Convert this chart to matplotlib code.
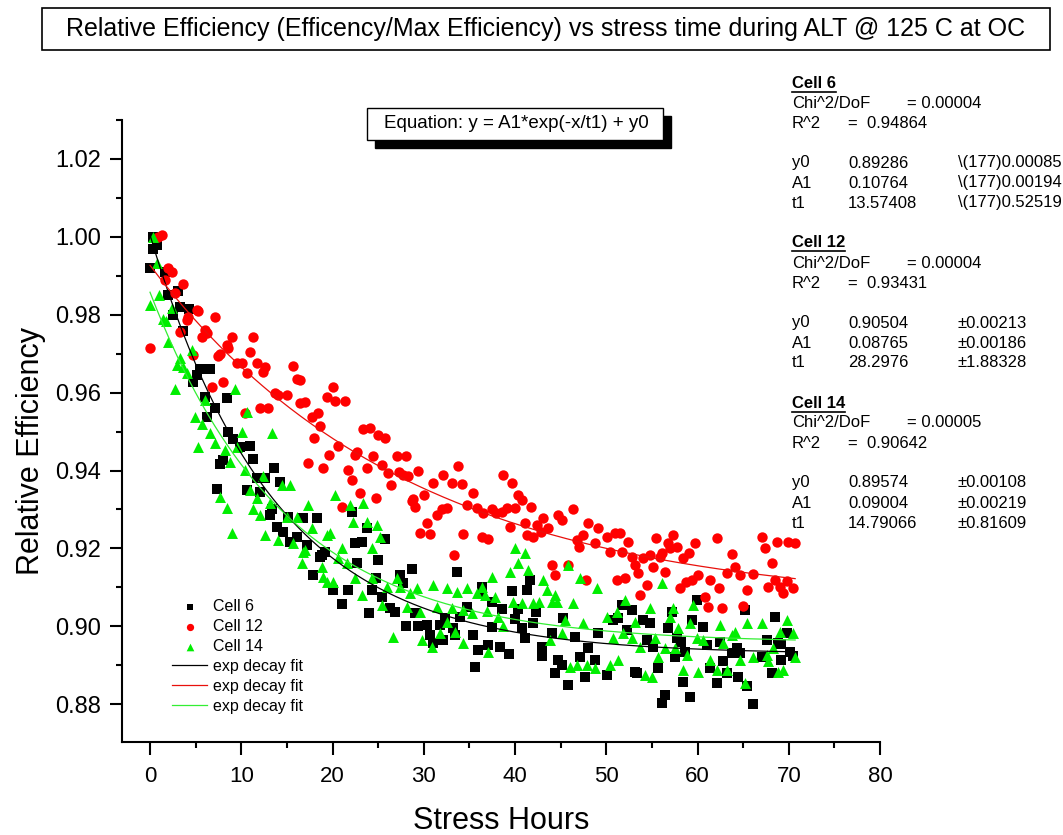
import numpy as np
import matplotlib
matplotlib.use("Agg")
import matplotlib.pyplot as plt
from matplotlib.patches import Rectangle
from matplotlib.lines import Line2D
from matplotlib.ticker import MultipleLocator

plt.rcParams['font.family'] = ['Liberation Sans', 'DejaVu Sans']

# Cell 6 (black squares)
cell6_x = [0.3, 0.8, 0.3, 0.0, 1.6, 2.0, 3.1, 3.3, 4.3, 2.5, 3.6, 5.5, 6.6, 5.1, 4.7, 6.0, 8.4, 7.1, 6.2,
           8.5, 9.1, 9.9, 11.0, 11.3, 8.0, 7.7, 13.6, 7.3, 10.6, 11.7, 12.6, 12.1, 14.2, 13.4, 13.2, 13.9,
           14.6, 15.1, 16.8, 18.3, 15.3, 17.2, 16.1, 18.8, 19.2, 17.9,
           18.6, 20.1, 21.0, 21.7, 22.1, 22.5, 23.2, 23.8, 25.8, 25.0, 22.7, 24.0, 24.3, 24.8, 25.4, 26.3,
           26.8, 27.4, 28.7, 27.7, 29.0, 28.1, 29.4, 30.4, 30.7, 31.0, 31.8, 32.1, 32.3, 33.2, 33.4, 33.6,
           34.0, 34.7, 35.4, 35.9, 35.6, 36.4, 36.4, 37.0, 37.5, 37.5,
           41.6, 39.7, 41.3, 38.6, 40.3, 42.3, 40.0, 40.8, 42.0, 41.1, 38.4, 39.3, 43.0, 44.1, 43.0, 45.3,
           46.6, 48.0, 47.1, 48.8, 44.7, 45.2, 44.4, 45.8, 47.7, 50.1, 49.1, 50.7, 51.3, 51.7, 52.8, 52.3,
           54.0, 54.8, 53.2, 53.4, 54.5, 55.1, 55.7, 56.4, 56.1, 57.2, 56.8, 57.5,
           59.9, 59.4, 60.6, 57.8, 58.2, 58.6, 61.0, 62.5, 62.8, 61.4, 63.2, 63.8, 64.7, 64.3, 65.2, 64.4,
           65.4, 66.1, 62.1, 59.2, 58.4, 67.1, 67.6, 68.5, 69.8, 68.8, 69.2, 69.2, 68.2, 70.1, 70.5]
cell6_y = [1.000, 0.998, 0.997, 0.992, 0.991, 0.985, 0.986, 0.982, 0.9815, 0.980, 0.9757, 0.966, 0.966,
           0.9645, 0.9627, 0.959, 0.9587, 0.956, 0.9538,
           0.950, 0.948, 0.946, 0.9463, 0.943, 0.9427, 0.9417, 0.9407, 0.9353, 0.935, 0.938, 0.938, 0.9346,
           0.937, 0.930, 0.9286, 0.9256, 0.9243, 0.928, 0.9279, 0.9279, 0.9217, 0.921, 0.923, 0.9184,
           0.919, 0.9132,
           0.9178, 0.9094, 0.9057, 0.9094, 0.9294, 0.9214, 0.9217, 0.9253, 0.9225, 0.917, 0.9163, 0.9035,
           0.9094, 0.9125, 0.9076, 0.9048, 0.9037, 0.9132, 0.9147, 0.911, 0.9035, 0.900, 0.900, 0.9003,
           0.8978, 0.8957, 0.9003, 0.8965, 0.9022, 0.8996, 0.8978, 0.914, 0.9024, 0.905, 0.8978, 0.894,
           0.8896, 0.9101, 0.9086, 0.8952, 0.8999, 0.9062,
           0.912, 0.9091, 0.9094, 0.9045, 0.9045, 0.9037, 0.9019, 0.8996, 0.9009, 0.897, 0.8947, 0.893,
           0.8947, 0.8983, 0.8924, 0.9022, 0.8973, 0.8944, 0.8922, 0.8914, 0.8914, 0.890, 0.888, 0.885,
           0.887, 0.8875, 0.8983, 0.9016, 0.9022, 0.9055, 0.9042, 0.8991, 0.9016, 0.9009, 0.8883, 0.888,
           0.8965, 0.8947, 0.8893, 0.8824, 0.8804, 0.9037, 0.8996, 0.8922,
           0.9068, 0.9016, 0.8998, 0.897, 0.896, 0.8934, 0.8952, 0.896, 0.891, 0.8894, 0.888, 0.8932,
           0.8932, 0.8945, 0.9042, 0.887, 0.8846, 0.880, 0.8855, 0.8819, 0.8857, 0.8922, 0.8965, 0.9024,
           0.8983, 0.8957, 0.8955, 0.8914, 0.888, 0.8934, 0.8924]

# Cell 12 (red circles)
cell12_x = [1.3, 0.9, 0.0, 2.0, 2.4, 1.6, 3.6, 2.7, 5.2, 5.3, 7.1, 4.2, 4.1, 6.0, 6.2, 5.7, 3.3, 9.0, 11.3,
            8.4, 8.5, 11.0, 7.7, 7.5, 4.7, 9.5, 10.1, 11.7, 12.6, 12.4, 10.6, 15.7, 16.1, 6.8, 8.0, 13.7,
            14.0, 15.0, 12.1, 12.9, 16.4, 17.0, 18.4, 17.8, 19.4, 10.4,
            20.1, 20.3, 21.4, 16.4, 18.6, 18.0, 17.3, 19.0, 19.6, 20.6, 23.3, 24.1, 25.0, 25.8, 21.7, 22.1,
            22.5, 22.7, 23.8, 24.4, 25.4, 26.1, 26.4, 27.1, 28.1, 27.3, 27.7, 28.3, 29.4, 23.0, 24.8, 28.8,
            30.0, 31.0, 32.1, 33.1, 33.8, 34.2, 35.4,
            21.0, 28.7, 29.0, 34.7, 35.8, 36.5, 37.5, 37.9, 31.5, 32.0, 32.5, 30.4, 29.6, 30.7, 34.3, 36.4,
            37.0, 33.3,
            38.7, 39.7, 40.3, 40.8, 38.6, 39.1, 40.0, 41.8, 39.5, 41.1, 42.4, 43.1, 43.6, 42.8, 41.3, 42.0,
            44.7, 45.2, 46.4, 48.0, 49.1, 46.8, 47.5, 47.0, 48.8, 50.1, 51.0, 51.5, 52.4, 50.4, 51.7, 52.8,
            53.2, 53.5, 54.0, 54.8, 55.1, 55.9, 56.1, 55.5, 56.4, 56.8, 57.3, 57.8, 44.1, 44.4, 45.8, 47.8,
            51.2, 52.1, 54.5, 53.7,
            57.0, 59.7, 62.1, 59.1, 58.4, 60.1, 59.4, 58.7, 58.1, 63.8, 64.1, 64.7, 63.2, 66.1, 61.4, 62.4,
            65.4, 60.8, 61.2, 62.7, 65.0, 67.1, 67.4, 68.7, 69.9, 70.7, 68.2, 68.5, 67.7, 69.0, 69.4, 69.8,
            70.5]
cell12_y = [1.0005, 1.000, 0.9715, 0.992, 0.991, 0.989, 0.988, 0.9856, 0.9813, 0.981, 0.9795, 0.9795,
            0.9787, 0.976, 0.9754, 0.9743, 0.9756, 0.9743, 0.9743, 0.9723, 0.9715, 0.9705, 0.970, 0.9695,
            0.9697, 0.9677, 0.9677, 0.9677, 0.9666, 0.9653, 0.965, 0.9669, 0.9635, 0.9615, 0.9628, 0.960,
            0.9594, 0.9594, 0.956, 0.956, 0.9574, 0.9576, 0.9548, 0.9538, 0.9589, 0.9548,
            0.9615, 0.9579, 0.9579, 0.9633, 0.9515, 0.9484, 0.942, 0.9407, 0.944, 0.9463, 0.9507, 0.951,
            0.9492, 0.9484, 0.9402, 0.9376, 0.944, 0.9448, 0.9407, 0.9438, 0.9415, 0.9394, 0.9363, 0.9438,
            0.9438, 0.9397, 0.9389, 0.9387, 0.940, 0.9343, 0.933, 0.9327, 0.9338, 0.9369, 0.9389, 0.9369,
            0.9412, 0.9366, 0.9343,
            0.9307, 0.9322, 0.9307, 0.9312, 0.9304, 0.9291, 0.930, 0.9291, 0.9286, 0.930, 0.9304, 0.9266,
            0.924, 0.9237, 0.9237, 0.923, 0.9225, 0.9184,
            0.9389, 0.9369, 0.9338, 0.9325, 0.9294, 0.9304, 0.9304, 0.9307, 0.9256, 0.9266, 0.926, 0.9278,
            0.9253, 0.9242, 0.9235, 0.923, 0.9286, 0.9273, 0.930, 0.9266, 0.9253, 0.9222, 0.9235, 0.9204,
            0.9214, 0.923, 0.924, 0.924, 0.9217, 0.9191, 0.9191, 0.9178, 0.9158, 0.9137, 0.9175, 0.9184,
            0.9153, 0.9178, 0.9189, 0.9227, 0.914, 0.9214, 0.9235, 0.9204, 0.9158, 0.9132, 0.9158, 0.912,
            0.912, 0.9125, 0.9107, 0.908,
            0.9202, 0.9214, 0.9227, 0.9189, 0.9175, 0.9132, 0.912, 0.9114, 0.9099, 0.9186, 0.9153, 0.9132,
            0.9137, 0.9135, 0.912, 0.9099, 0.9094, 0.9076, 0.905, 0.9047, 0.9052, 0.923, 0.920, 0.9217,
            0.9217, 0.9214, 0.9163, 0.912, 0.9102, 0.9102, 0.9086, 0.9117, 0.9099]

# Cell 14 (green triangles)
cell14_x = [0.3, 0.8, 1.0, 0.0, 2.4, 1.4, 1.8, 2.0, 4.6, 3.3, 3.0, 3.6, 4.1, 2.7, 6.0, 9.3, 10.6,
            4.9, 5.7, 6.6, 7.1, 5.3, 10.1, 13.4, 8.2, 8.8, 9.5, 10.4, 12.4, 14.5, 15.3, 11.0, 7.7, 11.7,
            8.4, 11.3, 12.1, 13.2, 9.0, 12.6, 14.0, 15.0, 16.1, 17.3, 16.8, 15.7, 17.8, 16.7, 18.8, 19.4,
            19.0, 19.4,
            20.3, 21.9, 23.3, 22.2, 23.8, 24.9, 25.2, 24.3, 21.0, 19.7, 17.0, 20.1, 20.6, 21.6, 22.5, 24.3,
            23.2, 25.4, 26.0, 27.1, 27.4, 28.5, 29.3, 28.2, 26.6, 29.8, 30.9, 31.0, 31.5, 32.5, 33.6, 34.7,
            35.8, 36.4, 37.5, 36.7, 32.5, 33.1, 34.3, 35.3, 34.3, 33.4, 31.8, 37.0, 29.6,
            40.0, 41.1, 40.3, 39.5, 41.4, 43.1, 43.5, 44.4, 45.8, 47.1, 49.0, 46.4, 44.6, 44.0, 42.0, 42.6,
            40.8, 39.8, 37.8, 38.1, 38.7, 36.9, 45.5, 47.5, 45.2, 43.8, 50.1, 51.2, 52.1, 50.7, 51.8, 53.2,
            54.8, 56.1, 57.0, 55.3, 53.7, 52.8, 56.4, 57.5, 55.7, 54.2, 55.0, 51.3, 50.4, 48.8, 47.9, 46.8,
            46.0,
            57.3, 59.2, 59.5, 57.9, 59.9, 60.6, 62.5, 63.8, 64.1, 62.8, 65.4, 67.1, 69.8, 69.0, 70.5, 68.3,
            70.7, 66.1, 67.6, 67.7, 64.7, 58.8, 61.4, 58.4, 60.1, 62.1, 63.2, 65.2, 68.8, 69.4]
cell14_y = [1.000, 0.9933, 0.985, 0.9825, 0.9818, 0.979, 0.9785, 0.973, 0.971, 0.969, 0.9671, 0.9666,
            0.965, 0.961, 0.9581, 0.961, 0.955,
            0.9538, 0.952, 0.9497, 0.947, 0.946, 0.950, 0.9497, 0.9453, 0.9422, 0.946, 0.9402, 0.9387,
            0.9363, 0.9363, 0.935, 0.9332, 0.933, 0.9304, 0.930, 0.9286, 0.9317, 0.924, 0.9235, 0.9222,
            0.928, 0.928, 0.9312, 0.9191, 0.9214, 0.9253, 0.9163, 0.9153, 0.9235, 0.9127, 0.9114,
            0.9338, 0.9312, 0.9317, 0.9268, 0.9268, 0.926, 0.923, 0.9202, 0.9202, 0.924, 0.9196, 0.9114,
            0.9176, 0.9163, 0.9125, 0.9125, 0.9081, 0.9055, 0.9101, 0.9125, 0.9101, 0.9086, 0.9099, 0.905,
            0.8973, 0.8965, 0.8947, 0.9107, 0.905, 0.9099, 0.9089, 0.9099, 0.9086, 0.9101, 0.9127, 0.9081,
            0.9012, 0.9047, 0.9042, 0.9035, 0.8957, 0.8986, 0.8983, 0.8934, 0.9037,
            0.9202, 0.9189, 0.9163, 0.914, 0.9145, 0.912, 0.9094, 0.9081, 0.9158, 0.9125, 0.9099, 0.906,
            0.9063, 0.9063, 0.906, 0.9063, 0.906, 0.9063, 0.9076, 0.9024, 0.9001, 0.904, 0.9016, 0.9009,
            0.8983, 0.8965, 0.9024, 0.9037, 0.9068, 0.897, 0.8983, 0.9012, 0.9047, 0.9111, 0.9024, 0.897,
            0.8947, 0.897, 0.8944, 0.8944, 0.8922, 0.8875, 0.887, 0.8914, 0.890, 0.8893, 0.890, 0.890,
            0.8896,
            0.9047, 0.9009, 0.9055, 0.8996, 0.897, 0.8965, 0.9003, 0.8978, 0.8986, 0.8957, 0.9009, 0.9009,
            0.9016, 0.8986, 0.8983, 0.8944, 0.8922, 0.8922, 0.8927, 0.891, 0.8914, 0.8927, 0.8914, 0.8888,
            0.8883, 0.8888, 0.8888, 0.8855, 0.8883, 0.8888]

# fit parameters (y0, A1, t1) from the chart's notes
fit6 = [0.89286, 0.10764, 13.57408]
fit12 = [0.90504, 0.08765, 28.2976]
fit14 = [0.89574, 0.09004, 14.79066]

W, H = 1063, 835
fig = plt.figure(figsize=(W / 100, H / 100), dpi=100)
ax = fig.add_axes([122 / W, 1 - 742 / H, (880 - 122) / W, (742 - 120) / H])


def px(x, y):
    return x / W, 1 - y / H


s6 = ax.scatter(cell6_x, cell6_y, marker='s', s=46, c='black', linewidths=0, label='Cell 6')
s12 = ax.scatter(cell12_x, cell12_y, marker='o', s=56, c='#ff0000', linewidths=0, label='Cell 12')
s14 = ax.scatter(cell14_x, cell14_y, marker='^', s=62, c='#00ee00', linewidths=0, label='Cell 14')

xf = np.linspace(0, 70.7, 300)
lines = []
for p, col in [(fit6, 'black'), (fit12, '#e8100c'), (fit14, '#33ee33')]:
    l, = ax.plot(xf, p[1] * np.exp(-xf / p[2]) + p[0], color=col, lw=0.9, label='exp decay fit')
    lines.append(l)

ax.set_xlim(-3.07, 80)
ax.set_ylim(0.8703, 1.0300)
ax.xaxis.set_major_locator(MultipleLocator(10))
ax.xaxis.set_minor_locator(MultipleLocator(5))
ax.yaxis.set_major_locator(MultipleLocator(0.02))
ax.yaxis.set_minor_locator(MultipleLocator(0.01))
ax.yaxis.set_major_formatter(matplotlib.ticker.FormatStrFormatter('%.2f'))
for side in ['top', 'right']:
    ax.spines[side].set_visible(False)
for side in ['left', 'bottom']:
    ax.spines[side].set_linewidth(1.5)
ax.tick_params(which='major', length=9, width=1.5, direction='out')
ax.tick_params(which='minor', length=4.5, width=1.5, direction='out')
ax.tick_params(axis='y', labelsize=17, pad=6)
ax.tick_params(axis='x', labelsize=16, pad=8)

ax.set_xlabel('Stress Hours', fontsize=22)
ax.set_ylabel('Relative Efficiency', fontsize=22)
ax.xaxis.set_label_coords(0.5, -0.103)
ax.yaxis.set_label_coords(-0.10, 0.468)

ax.legend(handles=[s6, s12, s14] + lines, loc='upper left', frameon=False, fontsize=11.5,
          bbox_to_anchor=((172 - 122) / 758, (742 - 599) / 622), borderaxespad=0, borderpad=0,
          handlelength=2.2, handletextpad=0.35, labelspacing=0.31, markerscale=0.7)

# title box
fig.add_artist(Rectangle(px(42, 50), 1008 / W, 42 / H, transform=fig.transFigure,
                         facecolor='white', edgecolor='black', lw=1.2))
fig.text(*px(546, 29), 'Relative Efficiency (Efficency/Max Efficiency) vs stress time during ALT @ 125 C at OC',
         ha='center', va='center', fontsize=18)

# equation box with shadow
fig.add_artist(Rectangle(px(375, 148), 296 / W, 32 / H, transform=fig.transFigure,
                         facecolor='black', edgecolor='black'))
fig.add_artist(Rectangle(px(367, 140), 296 / W, 32 / H, transform=fig.transFigure,
                         facecolor='white', edgecolor='black', lw=1.0))
fig.text(*px(516, 124), 'Equation: y = A1*exp(-x/t1) + y0', ha='center', va='center', fontsize=13.5)

# fit result notes
notes = [
    ('Cell 6', '0.00004', '0.94864', ['0.89286', '0.10764', '13.57408'],
     ['\\(177)0.00085', '\\(177)0.00194', '\\(177)0.52519']),
    ('Cell 12', '0.00004', '0.93431', ['0.90504', '0.08765', '28.2976'],
     ['±0.00213', '±0.00186', '±1.88328']),
    ('Cell 14', '0.00005', '0.90642', ['0.89574', '0.09004', '14.79066'],
     ['±0.00108', '±0.00219', '±0.81609']),
]
fs = 12
fig.canvas.draw()
rend = fig.canvas.get_renderer()
for i, (name, chi, r2, vals, errs) in enumerate(notes):
    y = 83 + 160 * i
    t = fig.text(*px(792, y), name, fontsize=fs, fontweight='bold', va='center')
    bb = t.get_window_extent(rend)
    fig.add_artist(Line2D([bb.x0 / W, bb.x1 / W], [(bb.y0 - 1) / H] * 2, color='black', lw=1.2,
                          transform=fig.transFigure))
    fig.text(*px(792, y + 20), 'Chi^2/DoF', fontsize=fs, va='center')
    fig.text(*px(907, y + 20), '= ' + chi, fontsize=fs, va='center')
    fig.text(*px(792, y + 40), 'R^2', fontsize=fs, va='center')
    fig.text(*px(848, y + 40), '=  ' + r2, fontsize=fs, va='center')
    for j, lab in enumerate(['y0', 'A1', 't1']):
        yy = y + 80 + 20 * j
        fig.text(*px(792, yy), lab, fontsize=fs, va='center')
        fig.text(*px(848, yy), vals[j], fontsize=fs, va='center')
        fig.text(*px(958, yy), errs[j], fontsize=fs, va='center')

fig.savefig('out.png', dpi=100)
